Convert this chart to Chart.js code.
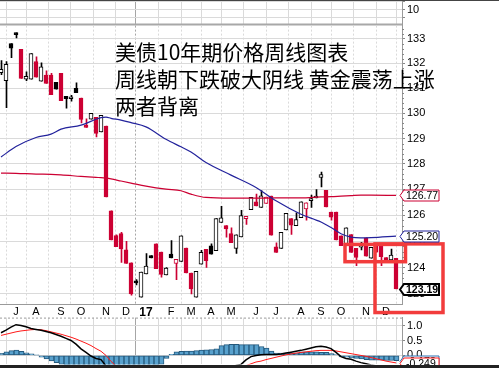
<!DOCTYPE html>
<html><head><meta charset="utf-8">
<script src="https://cdn.jsdelivr.net/npm/chart.js@4.4.0/dist/chart.umd.min.js"></script>
<style>
html,body{margin:0;padding:0;background:#fff;}
#wrap{position:relative;width:499px;height:368px;overflow:hidden;background:#fff;}
#wrap canvas{position:absolute;}
#note{position:absolute;left:115px;top:38px;font-family:"Noto Sans CJK SC";font-size:21px;line-height:27px;color:#000;white-space:pre;z-index:10;}
#topline{position:absolute;left:0;top:0;width:499px;height:1px;background:#444;z-index:9;}
#band{position:absolute;left:0;top:365px;width:499px;height:3px;background:#222;z-index:9;}
</style></head>
<body>
<div id="wrap">
<canvas id="cTop"></canvas>
<canvas id="cMain"></canvas>
<canvas id="cMacd"></canvas>
<div id="topline"></div>
<div id="band"></div>
<div id="note"></div>
</div>
<script>
// ---------- data ----------
const weeks = ['2016-06-13','2016-06-20','2016-06-27','2016-07-04','2016-07-11','2016-07-18','2016-07-25','2016-08-01','2016-08-08','2016-08-15',
'2016-08-22','2016-08-29','2016-09-05','2016-09-12','2016-09-19','2016-09-26','2016-10-03','2016-10-10','2016-10-17','2016-10-24',
'2016-10-31','2016-11-07','2016-11-14','2016-11-21','2016-11-28','2016-12-05','2016-12-12','2016-12-19','2016-12-26','2017-01-02',
'2017-01-09','2017-01-16','2017-01-23','2017-01-30','2017-02-06','2017-02-13','2017-02-20','2017-02-27','2017-03-06','2017-03-13',
'2017-03-20','2017-03-27','2017-04-03','2017-04-10','2017-04-17','2017-04-24','2017-05-01','2017-05-08','2017-05-15','2017-05-22',
'2017-05-29','2017-06-05','2017-06-12','2017-06-19','2017-06-26','2017-07-03','2017-07-10','2017-07-17','2017-07-24','2017-07-31',
'2017-08-07','2017-08-14','2017-08-21','2017-08-28','2017-09-04','2017-09-11','2017-09-18','2017-09-25','2017-10-02','2017-10-09',
'2017-10-16','2017-10-23','2017-10-30','2017-11-06','2017-11-13','2017-11-20','2017-11-27','2017-12-04','2017-12-11','2017-12-18'];

const opens = [131.63,131.31,132.81,133.24,132.57,131.37,131.37,132.08,131.29,131.53,
131.53,131.24,131.60,130.68,130.58,131.00,130.61,129.49,129.77,129.84,
129.26,129.49,126.17,125.22,125.29,124.67,124.18,123.49,122.88,123.76,
124.45,124.90,124.59,123.72,124.51,124.15,124.23,124.74,123.79,122.88,
124.13,124.69,124.83,124.64,125.72,125.60,125.29,124.73,125.17,125.87,
126.22,126.52,126.30,126.46,126.74,124.79,124.73,125.44,125.87,125.60,
125.91,126.25,126.56,126.67,127.47,126.97,126.12,126.12,125.21,124.83,
125.26,124.73,124.77,125.13,124.35,124.90,124.86,124.38,124.29,124.35];
const highs = [132.12,132.08,132.81,133.24,132.57,131.66,132.40,132.27,132.03,131.70,
131.60,131.24,131.60,130.68,130.72,131.22,130.61,129.78,130.00,129.84,
129.92,129.49,126.17,125.25,125.34,125.00,124.18,123.54,123.83,124.53,
124.45,124.90,124.59,124.00,125.03,124.31,125.21,124.74,123.79,123.85,
124.65,124.69,124.90,125.87,126.35,125.60,125.52,125.25,126.19,125.96,
126.69,126.82,126.96,126.70,126.74,124.94,125.34,126.07,125.87,126.09,
126.52,126.48,126.78,127.00,127.68,126.97,126.12,126.12,125.21,125.52,
125.26,124.73,124.96,125.13,124.77,124.90,124.86,124.38,124.70,124.35];
const lows = [131.55,130.22,132.23,133.04,131.40,131.31,131.37,131.45,131.29,131.19,
130.74,130.96,130.50,130.20,130.48,130.82,129.62,129.44,129.77,129.06,
129.26,126.71,125.05,124.79,124.19,124.15,122.95,123.34,122.88,123.76,
124.36,123.95,123.63,123.72,124.36,123.54,124.23,123.79,123.00,122.88,
124.13,124.00,124.51,124.64,125.72,125.16,124.95,124.54,125.17,125.65,
126.22,126.36,126.30,126.46,125.23,124.57,124.73,125.44,125.26,125.60,
125.91,125.81,126.30,126.67,127.10,126.32,125.81,125.05,124.83,124.83,
124.57,124.07,124.67,124.43,124.35,124.58,124.07,124.28,124.29,123.19];
const closes = [131.76,131.96,132.62,133.17,131.40,131.48,132.40,131.45,131.86,131.19,
130.74,130.96,130.50,130.58,130.59,130.82,129.76,129.44,130.00,129.20,
129.92,126.71,125.05,124.79,124.71,124.15,123.00,123.41,123.83,124.05,
124.36,123.95,123.74,123.98,124.36,124.31,125.21,123.79,123.19,123.85,
124.58,124.26,124.51,125.87,125.90,125.47,124.95,125.25,125.99,125.96,
126.69,126.36,126.75,126.70,125.23,124.57,125.34,126.07,125.62,125.83,
126.52,126.48,126.65,126.74,127.58,126.32,125.93,125.05,124.83,125.52,
124.57,124.38,124.87,124.43,124.77,124.58,124.41,124.28,124.47,123.19];

// moving averages, read at these week indices
const maWeeks = [0,3,7,10,12,16,19,20,21,22,24,26,29,33,36,38,41,46,51,55,60,64,66,68,70,72,74,79];
const maShort = [128.27,128.68,129.04,129.17,129.37,129.53,129.76,129.83,129.85,129.80,129.73,129.63,129.46,128.97,128.67,128.47,128.05,127.56,127.08,126.56,126.04,125.74,125.53,125.29,125.16,125.13,125.14,125.20];
const maLong  = [127.64,127.63,127.60,127.59,127.57,127.51,127.47,127.46,127.44,127.41,127.33,127.25,127.13,127.01,126.95,126.82,126.69,126.66,126.66,126.67,126.67,126.71,126.72,126.74,126.76,126.78,126.78,126.77];

const monthWeeks  = [3,7,12,16,21,25,29,34,38,42,46,51,55,60,64,68,73,77];
const monthLabels = ['J','A','S','O','N','D','17','F','M','A','M','J','J','A','S','O','N','D'];
const yearWeek = 29;
const priceTicks = [123,124,125,126,127,128,129,130,131,132,133];

const macdLine = [0.76,0.85,0.95,1.03,1.00,0.96,0.90,0.87,0.84,0.80,
0.76,0.70,0.64,0.57,0.50,0.38,0.22,0.10,-0.02,-0.10,
-0.14,-0.35,-0.65,-0.95,-1.20,-1.40,-1.55,-1.60,-1.60,-1.55,
-1.45,-1.40,-1.35,-1.30,-1.20,-1.10,-1.00,-0.95,-0.92,-0.88,
-0.80,-0.72,-0.64,-0.56,-0.48,-0.42,-0.38,-0.34,-0.30,-0.15,
-0.04,0.00,0.02,0.03,0.03,0.03,0.05,0.08,0.11,0.14,
0.17,0.21,0.25,0.29,0.31,0.28,0.23,0.10,-0.04,-0.10,
-0.13,-0.19,-0.24,-0.28,-0.32,-0.35,-0.37,-0.39,-0.40,-0.43];
const signalLine = [0.67,0.71,0.75,0.79,0.82,0.84,0.86,0.87,0.86,0.83,
0.79,0.75,0.71,0.66,0.61,0.55,0.48,0.41,0.33,0.23,
0.14,0.00,-0.20,-0.35,-0.50,-0.65,-0.80,-0.95,-1.05,-1.12,
-1.18,-1.22,-1.24,-1.25,-1.24,-1.22,-1.18,-1.14,-1.10,-1.05,
-1.00,-0.95,-0.88,-0.80,-0.72,-0.64,-0.56,-0.48,-0.40,-0.34,
-0.28,-0.22,-0.19,-0.14,-0.10,-0.06,-0.02,0.02,0.05,0.08,
0.10,0.12,0.14,0.16,0.17,0.17,0.17,0.15,0.12,0.09,
0.06,0.03,0.00,-0.03,-0.07,-0.11,-0.15,-0.19,-0.22,-0.249];
const histogram = [0.07,0.12,0.16,0.18,0.14,0.09,0.05,0.01,-0.06,-0.12,
-0.18,-0.24,-0.30,-0.35,-0.40,-0.45,-0.50,-0.50,-0.50,-0.50,
-0.50,-0.55,-0.60,-0.60,-0.60,-0.60,-0.60,-0.55,-0.50,-0.45,
-0.40,-0.35,-0.30,-0.10,0.04,0.12,0.14,0.15,0.15,0.16,
0.18,0.19,0.20,0.22,0.33,0.36,0.37,0.37,0.36,0.36,
0.36,0.36,0.30,0.25,0.15,0.08,0.08,0.08,0.08,0.08,
0.12,0.12,0.12,0.12,0.10,0.10,0.06,0.03,-0.05,-0.06,
-0.08,-0.10,-0.12,-0.14,-0.16,-0.16,-0.16,-0.17,-0.17,-0.178];
const macdTicks = [0, 0.5, 1.0];
const stripTicks = [5, 10, 15];

const noteLines = ['美债10年期价格周线图表', '周线朝下跌破大阴线 黄金震荡上涨', '两者背离'];
// annotation boxes (week index / price)
const boxes = [
  {w0: 68.8, w1: 80.9, p0: 124.88, p1: 124.22},
  {w0: 74.8, w1: 88.4, p0: 124.90, p1: 122.30}
];

// ---------- styling ----------
const RED = '#cc0033', BLACK = '#000000', BLUE = '#23239c';
const xMin = -0.2, xMax = 80.2;
const tickFont = {family: '"Liberation Sans", Arial, sans-serif', size: 11};
const gridCol = c => (c.tick && c.tick.value === yearWeek) ? '#a6a6a6' : '#dadada';

document.getElementById('note').textContent = noteLines.join('\n');

function candleColor(i) {
  if (i === 0) return BLACK;
  return closes[i] >= closes[i - 1] ? BLACK : RED;
}
function hollow(i) { return closes[i] > opens[i]; }

const xScale = (showLabels) => ({
  type: 'linear', min: xMin, max: xMax, offset: false,
  afterBuildTicks: s => { s.ticks = monthWeeks.map(v => ({value: v})); },
  ticks: {
    display: showLabels, autoSkip: false, maxRotation: 0, padding: 1, color: '#000',
    callback: (v, idx) => monthLabels[idx],
    font: c => (c.tick && c.tick.value === yearWeek) ? {family: tickFont.family, size: 12, weight: 'bold'} : {family: tickFont.family, size: 11}
  },
  grid: {color: gridCol, drawTicks: false, lineWidth: 1},
  border: showLabels ? {display: true, color: '#9a9a9a', dash: [2, 2]} : {display: false},
  afterFit: s => { s.height = showLabels ? 14 : 0; }
});
// half-pixel shifted helper axis so 1px wicks / 5px histogram bars land on whole pixels
const xShift = () => ({type: 'linear', display: false, min: xMin - 0.1, max: xMax - 0.1, offset: false});

const yRight = (min, max, tickVals, fmt, type) => ({
  type: type || 'linear', position: 'right', min: min, max: max,
  afterBuildTicks: s => { s.ticks = tickVals.map(v => ({value: v})); },
  ticks: {callback: fmt, font: tickFont, color: '#000', padding: 2, autoSkip: false},
  grid: {color: '#dadada', tickLength: 3, tickColor: '#888'},
  border: {display: true, color: '#9a9a9a'},
  afterFit: s => { s.width = 97; }
});

const tagPlugin = (getTags) => ({
  id: 'tags',
  afterDraw(chart) {
    const ctx = chart.ctx, ys = chart.scales.y, ca = chart.chartArea;
    for (const t of getTags()) {
      const y = Math.round(ys.getPixelForValue(t.value)) + 0.5;
      const x = ca.right - 2, w = 35, h = 11;
      ctx.save();
      ctx.beginPath();
      ctx.moveTo(x, y);
      ctx.lineTo(x + 4, y - h / 2);
      ctx.lineTo(x + 4 + w, y - h / 2);
      ctx.lineTo(x + 4 + w, y + h / 2);
      ctx.lineTo(x + 4, y + h / 2);
      ctx.closePath();
      ctx.fillStyle = '#fff'; ctx.fill();
      ctx.lineWidth = t.lw || 1; ctx.strokeStyle = t.color; ctx.stroke();
      ctx.fillStyle = '#000';
      ctx.font = (t.bold ? 'bold ' : '') + '10.5px "Liberation Sans", Arial, sans-serif';
      ctx.textBaseline = 'middle'; ctx.textAlign = 'left';
      ctx.fillText(t.text, x + 6, y + 0.5);
      ctx.restore();
    }
  }
});

const minorTicks = {
  id: 'minorTicks',
  afterDraw(chart) {
    const ys = chart.scales.y, ca = chart.chartArea, ctx = chart.ctx;
    ctx.save(); ctx.strokeStyle = '#888'; ctx.lineWidth = 1;
    for (let k = 0; k < priceTicks.length; k++) {
      for (let f = 1; f < 5; f++) {
        const v = priceTicks[k] + f * 0.2;
        if (v > ys.max) continue;
        const y = Math.round(ys.getPixelForValue(v)) + 0.5;
        ctx.beginPath(); ctx.moveTo(ca.right, y); ctx.lineTo(ca.right + 2, y); ctx.stroke();
      }
    }
    ctx.restore();
  }
};

const boxPlugin = {
  id: 'boxes',
  afterDraw(chart) {
    const xs = chart.scales.x, ys = chart.scales.y, ctx = chart.ctx;
    ctx.save(); ctx.strokeStyle = '#f23c3c'; ctx.lineWidth = 3.5;
    for (const b of boxes) {
      const x0 = xs.getPixelForValue(b.w0), x1 = xs.getPixelForValue(b.w1);
      const y0 = ys.getPixelForValue(b.p0), y1 = ys.getPixelForValue(b.p1);
      ctx.strokeRect(x0, y0, x1 - x0, y1 - y0);
    }
    ctx.restore();
  }
};

const bottomLine = (color, width) => ({
  id: 'bottomLine', afterDraw(chart) {
    const ca = chart.chartArea, ctx = chart.ctx;
    ctx.save(); ctx.strokeStyle = color; ctx.lineWidth = width;
    ctx.beginPath(); ctx.moveTo(ca.left, ca.bottom - width / 2); ctx.lineTo(ca.right, ca.bottom - width / 2); ctx.stroke();
    ctx.restore();
  }
});

const last = a => a[a.length - 1];
const baseOpts = () => ({
  responsive: false, animation: false, devicePixelRatio: 1, maintainAspectRatio: false,
  layout: {padding: 0},
  plugins: {legend: {display: false}, tooltip: {enabled: false}}
});

function mainCfg() {
  const o = baseOpts();
  o.scales = {
    x: xScale(true),
    xw: xShift(),
    y: yRight(122.62, 133.54, priceTicks, v => String(v), 'logarithmic')
  };
  return {
    type: 'bar',
    data: { datasets: [
      {type: 'line', label: 'MA short', data: maWeeks.map((w, k) => ({x: w, y: maShort[k]})),
       borderColor: BLUE, borderWidth: 1.2, pointRadius: 0, cubicInterpolationMode: 'monotone', order: 0},
      {type: 'line', label: 'MA long', data: maWeeks.map((w, k) => ({x: w, y: maLong[k]})),
       borderColor: RED, borderWidth: 1.2, pointRadius: 0, cubicInterpolationMode: 'monotone', order: 1},
      {label: 'body', data: weeks.map((d, i) => ({x: i, y: [Math.min(opens[i], closes[i]), Math.max(opens[i], closes[i])]})),
       backgroundColor: c => hollow(c.dataIndex) ? '#ffffff' : candleColor(c.dataIndex),
       borderColor: c => candleColor(c.dataIndex),
       borderWidth: 1, borderSkipped: false, barThickness: 4, minBarLength: 2, grouped: false, order: 2},
      {label: 'wick', xAxisID: 'xw', data: weeks.map((d, i) => ({x: i, y: [lows[i], highs[i]]})),
       backgroundColor: c => candleColor(c.dataIndex), borderWidth: 0, barThickness: 1, grouped: false, order: 3}
    ]},
    options: o,
    plugins: [minorTicks, boxPlugin, tagPlugin(() => [
      {value: last(maLong), text: last(maLong).toFixed(2), color: RED},
      {value: last(maShort), text: last(maShort).toFixed(2), color: BLUE},
      {value: last(closes), text: last(closes).toFixed(2), color: '#000', bold: true, lw: 2}
    ])]
  };
}

function macdCfg() {
  const o = baseOpts();
  o.scales = {
    x: xScale(false),
    xw: xShift(),
    y: yRight(-0.3, 1.2667, macdTicks, v => v.toFixed(1))
  };
  return {
    type: 'bar',
    data: { datasets: [
      {type: 'line', label: 'MACD', data: weeks.map((d, i) => ({x: i, y: macdLine[i]})),
       borderColor: '#000', borderWidth: 1.5, pointRadius: 0, order: 0},
      {type: 'line', label: 'Signal', data: weeks.map((d, i) => ({x: i, y: signalLine[i]})),
       borderColor: '#ff1a1a', borderWidth: 1, pointRadius: 0, order: 1},
      {label: 'Hist', xAxisID: 'xw', data: weeks.map((d, i) => ({x: i, y: histogram[i]})),
       backgroundColor: '#58a1cd', borderColor: '#24597c', borderWidth: 1, borderSkipped: false,
       barThickness: 5, grouped: false, order: 2}
    ]},
    options: o,
    plugins: [{
      id: 'topDash', afterDraw(chart) {
        const ca = chart.chartArea, ctx = chart.ctx;
        ctx.save(); ctx.strokeStyle = '#9a9a9a'; ctx.setLineDash([2, 2]);
        ctx.beginPath(); ctx.moveTo(ca.left, ca.top + 0.5); ctx.lineTo(ca.right, ca.top + 0.5); ctx.stroke();
        ctx.restore();
      }
    }, tagPlugin(() => [
      {value: last(histogram), text: last(histogram).toFixed(3), color: '#2a6fb0'},
      {value: last(signalLine), text: last(signalLine).toFixed(3), color: '#ff1a1a'}
    ])]
  };
}

function stripCfg() {
  const o = baseOpts();
  o.scales = {
    x: xScale(false),
    y: yRight(0.4, 16, stripTicks, v => (v === 10 ? '10' : ''))
  };
  return {
    type: 'bar',
    data: {datasets: [{label: 'panel', data: [], barThickness: 4}]},
    options: o,
    plugins: [bottomLine('#a8a8a8', 2)]
  };
}

function build(id, makeCfg, area, w0, h0) {
  const cv = document.getElementById(id);
  const create = (w, h) => {
    cv.width = w; cv.height = h; cv.style.width = w + 'px'; cv.style.height = h + 'px';
    return new Chart(cv, makeCfg());
  };
  let w = w0, h = h0, ch = create(w, h), ca = ch.chartArea;
  const nw = Math.round(w + (area.right - area.left) - (ca.right - ca.left));
  const nh = Math.round(h + (area.bottom - area.top) - (ca.bottom - ca.top));
  if (nw !== w || nh !== h) { ch.destroy(); w = nw; h = nh; ch = create(w, h); ca = ch.chartArea; }
  cv.style.left = Math.round(area.left - ca.left) + 'px';
  cv.style.top = Math.round(area.top - ca.top) + 'px';
  return ch;
}

build('cTop', stripCfg, {left: 0, top: 0, right: 402, bottom: 26}, 499, 50);
build('cMain', mainCfg, {left: 0, top: 26, right: 402, bottom: 304}, 499, 300);
build('cMacd', macdCfg, {left: 0, top: 318, right: 402, bottom: 365}, 499, 60);
</script>
</body></html>
